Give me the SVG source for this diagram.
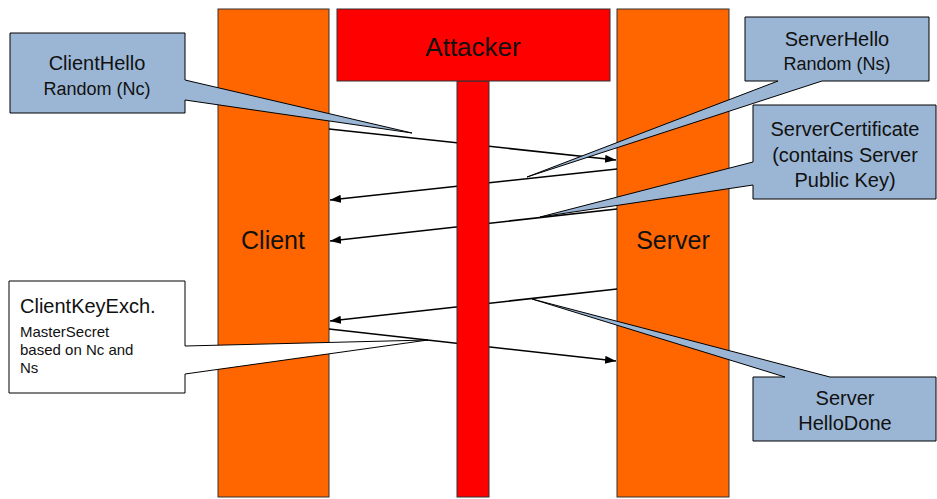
<svg xmlns="http://www.w3.org/2000/svg" width="937" height="499" viewBox="0 0 937 499">
  <style>
    .party { fill: #FF6600; stroke: #333; stroke-width: 1; }
    .attacker { fill: #FF0000; stroke: #333; stroke-width: 1; }
    .callout { fill: #9AB6D4; stroke: #000; stroke-width: 1; stroke-linejoin: miter; }
    .note { fill: #FFFFFF; stroke: #000; stroke-width: 1; }
    .msg { stroke: #000; stroke-width: 1.6; fill: none; marker-end: url(#head); }
    text { font-family: "Liberation Sans", Arial, sans-serif; fill: #111; }
    .big { font-size: 26px; text-anchor: middle; }
    .lbl { font-size: 20px; text-anchor: middle; }
    .sub { font-size: 18px; text-anchor: middle; }
    .small { font-size: 15px; }
  </style>
  <defs>
    <marker id="head" markerUnits="userSpaceOnUse" markerWidth="12" markerHeight="10" refX="11" refY="4" orient="auto">
      <path d="M0,0 L11,4 L0,8 Z" fill="#000"/>
    </marker>
  </defs>

  <rect width="937" height="499" fill="#FFFFFF"/>

  <!-- lifelines -->
  <g id="client">
    <rect class="party" x="218" y="9" width="111" height="488"/>
    <text class="big" x="273" y="249" style="font-size:25px">Client</text>
  </g>
  <g id="server">
    <rect class="party" x="617" y="9" width="112" height="488"/>
    <text class="big" x="673" y="249" style="font-size:25px">Server</text>
  </g>

  <!-- messages -->
  <g id="connectors">
    <line class="msg" x1="329" y1="129" x2="616" y2="160"/>
    <line class="msg" x1="617" y1="169" x2="330" y2="200"/>
    <line class="msg" x1="617" y1="209" x2="330" y2="241"/>
    <line class="msg" x1="617" y1="289" x2="330" y2="321"/>
    <line class="msg" x1="329" y1="329" x2="616" y2="361"/>
  </g>

  <!-- attacker sits in the middle of the channel -->
  <g id="attacker">
    <rect class="attacker" x="457" y="81" width="32" height="416"/>
    <rect class="attacker" x="337" y="9" width="273" height="72"/>
    <text class="big" x="473" y="56">Attacker</text>
  </g>

  <!-- callouts -->
  <g id="clienthello">
    <path class="callout" d="M10,33 H185 V80 L412,133 L185,100 V113 H10 Z"/>
    <text class="lbl" x="97" y="70">ClientHello</text>
    <text class="sub" x="97" y="95">Random (Nc)</text>
  </g>
  <g id="serverhello">
    <path class="callout" d="M745,17 H929 V81 H822 L527,177 L778,81 H745 Z"/>
    <text class="lbl" x="837" y="46">ServerHello</text>
    <text class="sub" x="837" y="70">Random (Ns)</text>
  </g>
  <g id="servercertificate">
    <path class="callout" d="M753,105 H936 V199 H753 V185 L540,217 L753,162 Z"/>
    <text class="lbl" x="845" y="136">ServerCertificate</text>
    <text class="lbl" x="845" y="162">(contains Server</text>
    <text class="lbl" x="845" y="187">Public Key)</text>
  </g>
  <g id="clientkeyexch">
    <path class="note" d="M9,281 H185 V346 L428,340 L185,374 V393 H9 Z"/>
    <text style="font-size:20px" x="20" y="313">ClientKeyExch.</text>
    <text class="small" x="20" y="337">MasterSecret</text>
    <text class="small" x="20" y="355">based on Nc and</text>
    <text class="small" x="20" y="373">Ns</text>
  </g>
  <g id="serverhellodone">
    <path class="callout" d="M753,377 H785 L532,299 L830,377 H936 V441 H753 Z"/>
    <text class="lbl" x="845" y="405">Server</text>
    <text class="lbl" x="845" y="430">HelloDone</text>
  </g>
</svg>
